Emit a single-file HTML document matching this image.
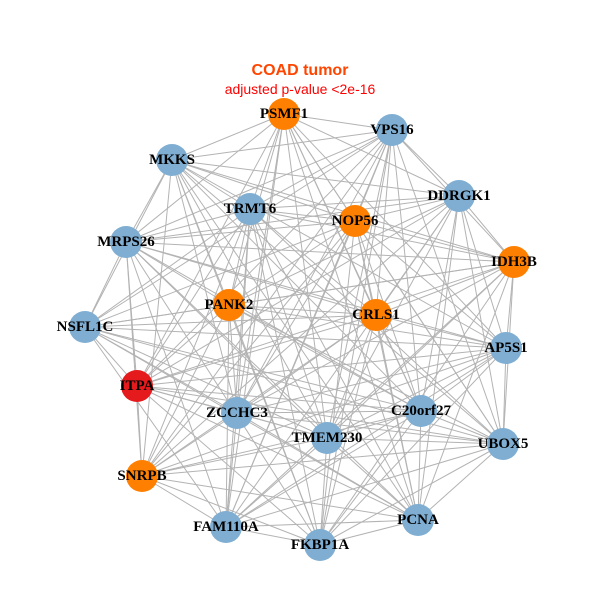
<!DOCTYPE html>
<html><head><meta charset="utf-8"><style>
html,body{margin:0;padding:0;background:#fff}
svg{display:block}
.l{font-family:"Liberation Serif",serif;font-weight:bold;font-size:15px;fill:#000;text-anchor:middle;dominant-baseline:central}
</style></head><body>
<svg id="s" width="600" height="600" viewBox="0 0 600 600">
<rect width="600" height="600" fill="#fff"/>
<text x="300" y="75" text-anchor="middle" font-family="Liberation Sans, sans-serif" font-weight="bold" font-size="16" fill="#FF4500">COAD tumor</text>
<text x="300" y="94" text-anchor="middle" font-family="Liberation Sans, sans-serif" font-size="14" fill="#F00">adjusted p-value &lt;2e-16</text>
<g id="e" stroke="#b3b3b3" stroke-width="1"></g>
<g id="n"></g>
<g>
<text class="l" x="284" y="114">PSMF1</text>
<text class="l" x="392" y="130">VPS16</text>
<text class="l" x="172" y="160">MKKS</text>
<text class="l" x="459" y="196">DDRGK1</text>
<text class="l" x="250" y="209">TRMT6</text>
<text class="l" x="355" y="221">NOP56</text>
<text class="l" x="126" y="242">MRPS26</text>
<text class="l" x="514" y="262">IDH3B</text>
<text class="l" x="229" y="305">PANK2</text>
<text class="l" x="376" y="315">CRLS1</text>
<text class="l" x="85" y="327">NSFL1C</text>
<text class="l" x="506" y="348">AP5S1</text>
<text class="l" x="137" y="386">ITPA</text>
<text class="l" x="237" y="413">ZCCHC3</text>
<text class="l" x="421" y="411">C20orf27</text>
<text class="l" x="327" y="438">TMEM230</text>
<text class="l" x="503" y="444">UBOX5</text>
<text class="l" x="142" y="476">SNRPB</text>
<text class="l" x="418" y="520">PCNA</text>
<text class="l" x="226" y="527">FAM110A</text>
<text class="l" x="320" y="545">FKBP1A</text>
</g>
</svg>
<script>
var N=[[284,114,'o'],[392,130,'b'],[172,160,'b'],[459,196,'b'],[250,209,'b'],[355,221,'o'],[126,242,'b'],[514,262,'o'],[229,305,'o'],[376,315,'o'],[85,327,'b'],[506,348,'b'],[137,386,'r'],[237,413,'b'],[421,411,'b'],[327,438,'b'],[503,444,'b'],[142,476,'o'],[418,520,'b'],[226,527,'b'],[320,545,'b']];
var C={o:'#FF7F00',b:'#7FAED2',r:'#E41A1C'};
var ns='http://www.w3.org/2000/svg',e=document.getElementById('e'),g=document.getElementById('n');
for(var i=0;i<N.length;i++)for(var j=i+1;j<N.length;j++){
 if(((i*7+j*13)%10)<2)continue;
 var l=document.createElementNS(ns,'line');
 l.setAttribute('x1',N[i][0]);l.setAttribute('y1',N[i][1]);l.setAttribute('x2',N[j][0]);l.setAttribute('y2',N[j][1]);e.appendChild(l);}
N.forEach(function(p){var c=document.createElementNS(ns,'circle');c.setAttribute('cx',p[0]);c.setAttribute('cy',p[1]);c.setAttribute('r',16);c.setAttribute('fill',C[p[2]]);g.appendChild(c);});
</script>
</body></html>
